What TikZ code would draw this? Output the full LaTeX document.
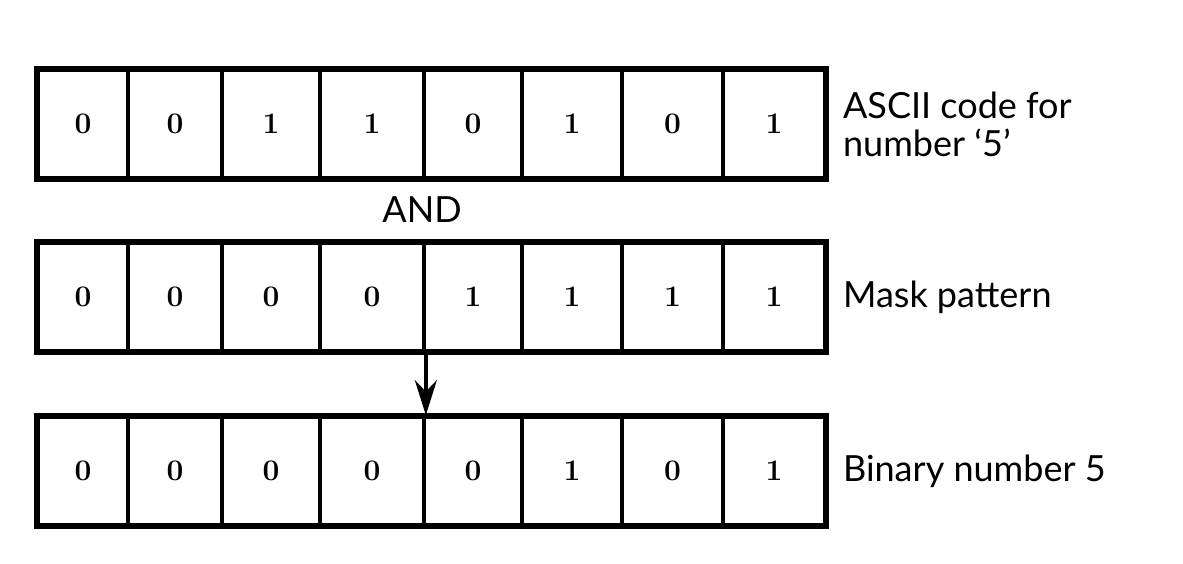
\documentclass[tikz,border=0pt]{standalone}
\usepackage{fontspec}
\usepackage{tikz}
\usetikzlibrary{positioning,arrows.meta}
\newfontfamily\labelfont{Lato}

\tikzset{
  cell/.style={draw, line width=2.1pt, minimum height=2.16cm, inner sep=0pt,
    font=\bfseries\fontsize{17}{20}\selectfont},
  frame/.style={line width=2.9pt, line join=miter},
  caption/.style={font=\labelfont\fontsize{20.5}{21.5}\selectfont, align=left, anchor=west},
}

\begin{document}
\begin{tikzpicture}[x=0.02cm,y=-0.02cm]
        \useasboundingbox (0,0) rectangle (1183,564);
        % one column per bit: centre, width, ASCII bit, mask bit, result bit
        \foreach \i/\cx/\w/\a/\m/\b in {1/83/90/0/0/0, 2/175/94/0/0/0,
                3/271/98/1/0/0, 4/372/104/1/0/0, 5/473/98/0/1/0,
                6/572/100/1/1/1, 7/672.5/101/0/1/0, 8/774/102/1/1/1} {
            \node[cell, minimum width=\w*0.02cm] (ascii\i) at (\cx,124) {\a};
            \node[cell, minimum width=\w*0.02cm] (mask\i) at (\cx,297) {\m};
            \node[cell, minimum width=\w*0.02cm] (bin\i) at (\cx,471) {\b};
        }
        \draw[frame] (ascii1.north west) rectangle (ascii8.south east);
        \draw[frame] (mask1.north west) rectangle (mask8.south east);
        \draw[frame] (bin1.north west) rectangle (bin8.south east);

        \node[caption, right=0.2cm of ascii8] (asciilabel) {ASCII code for\\number ‘5’};
        \node[caption, right=0.2cm of mask8] (masklabel) {Mask pattern};
        \node[caption, right=0.2cm of bin8] (binlabel) {Binary number 5};
        \node[caption, anchor=center] (andop) at (422,210) {AND};

        \draw[line width=2.1pt, -{Stealth[length=0.7cm, width=0.44cm]}]
            (mask4.south east) -- (bin4.north east);
\end{tikzpicture}
\end{document}
